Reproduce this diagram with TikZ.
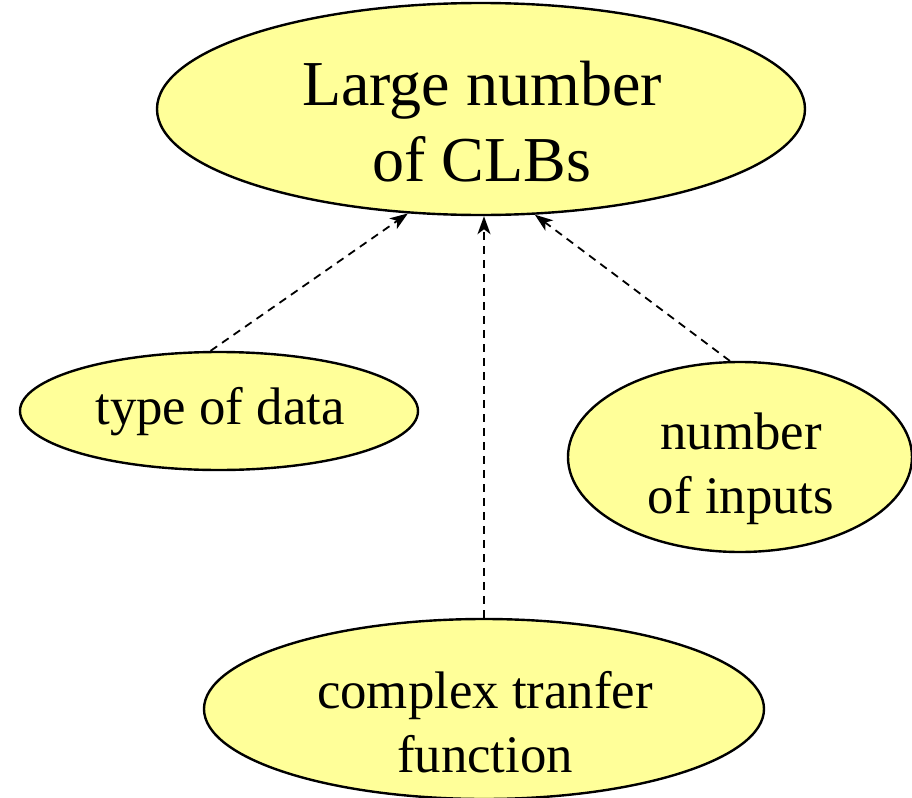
\documentclass[tikz,border=0pt]{standalone}
\usepackage{fontspec}
\setmainfont{Liberation Serif}
\usetikzlibrary{shapes.geometric,arrows.meta}
\definecolor{bubble}{HTML}{FFFF99}
\tikzset{
  bubblenode/.style={ellipse, draw=black, line width=1.2pt, fill=bubble,
    inner sep=0pt},
  caption/.style={align=center, inner sep=0pt},
  bigtext/.style={font=\fontsize{32}{38}\selectfont},
  smalltext/.style={font=\fontsize{26.4}{32}\selectfont},
  dep/.style={dashed, dash pattern=on 4pt off 3pt, line width=0.9pt,
    -{Stealth[length=9pt,width=6.5pt,inset=2.5pt]}},
}
\begin{document}
\begin{tikzpicture}[x=0.5pt,y=-0.5pt]
\path[use as bounding box] (0,0) rectangle (912,798);

% bubbles
\node[bubblenode, minimum width=324pt, minimum height=106pt] (clb) at (481,109) {};
\node[bubblenode, minimum width=199pt, minimum height=59pt] (dtype) at (219,411) {};
\node[bubblenode, minimum width=172pt, minimum height=95pt] (ninp) at (740,457) {};
\node[bubblenode, minimum width=280pt, minimum height=90pt] (cfun) at (484,709) {};

% captions
\node[caption, bigtext] (clbtxt) at (482,122) {Large number\\of CLBs};
\node[caption, smalltext] (dtypetxt) at (220,412) {type of data};
\node[caption, smalltext] (ninptxt) at (741,469) {number\\of inputs};
\node[caption, smalltext] (cfuntxt) at (485,722) {complex tranfer\\function};

% dependencies
\draw[dep] (dtype.98) -- (clb.235);
\draw[dep] (cfun.north) -- (cfun.north |- clb.south);
\draw[dep] (ninp.96) -- (clb.297);
\end{tikzpicture}
\end{document}
